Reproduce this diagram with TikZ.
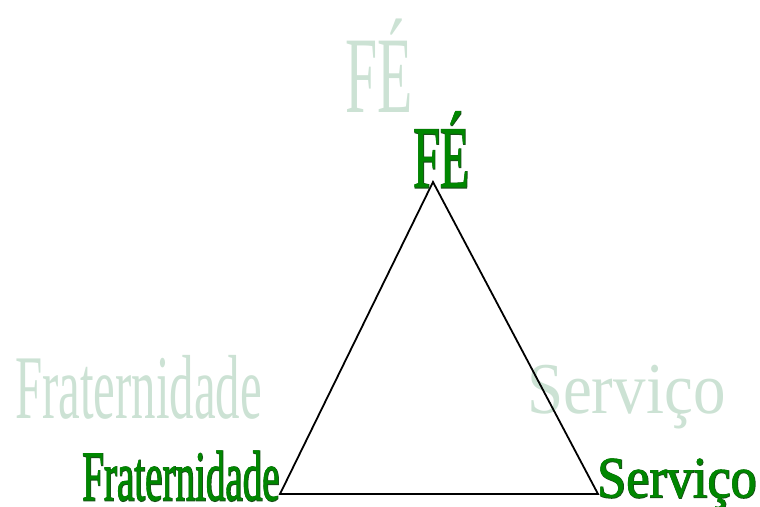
\documentclass[tikz,border=0pt]{standalone}
\usepackage{fontspec}
\setmainfont{Liberation Serif}
\newfontfamily\heavyface[FakeBold=2.5]{Liberation Serif}
\newfontfamily\midface[FakeBold=0.8]{Liberation Serif}
\usepackage{graphicx}
\definecolor{pale}{RGB}{204,226,212}
\definecolor{leaf}{RGB}{0,135,0}
\definecolor{deep}{RGB}{25,80,25}
\newcommand{\txt}[3]{\fontsize{#1}{#1}\selectfont\scalebox{#2}[1]{#3}}
\begin{document}
\begin{tikzpicture}[x=1pt,y=-1pt,
  lbl/.style={anchor=base west,inner sep=0pt,outer sep=0pt},
  shadowtxt/.style={lbl,text=pale},
  backtxt/.style={lbl,text=deep,font=\heavyface},
  fronttxt/.style={lbl,text=leaf,font=\midface},
  edge/.style={draw=black,line width=1.8pt,line join=miter}]
\useasboundingbox (0,0) rectangle (760,506);
% pale background words
\node[shadowtxt] (sfe) at (345,112) {\txt{109}{0.53}{FÉ}};
\node[shadowtxt] (sfrat) at (15,418) {\txt{91}{0.537}{Fraternidade}};
\node[shadowtxt] (sserv) at (527,413) {\txt{73}{0.89}{Serviço}};
% triangle
\coordinate (top) at (433,182);
\coordinate (bl) at (280,494);
\coordinate (br) at (598,494);
\draw[edge] (top) -- (bl) -- (br) -- cycle;
% dark embossed labels
\node[backtxt] (fe0) at (413.5,187.5) {\txt{88}{0.545}{FÉ}};
\node[fronttxt] (fe) at (413,187) {\txt{88}{0.545}{FÉ}};
\node[backtxt] (frat0) at (82.5,500.5) {\txt{71}{0.55}{Fraternidade}};
\node[fronttxt] (frat) at (82,500) {\txt{71}{0.55}{Fraternidade}};
\node[backtxt] (serv0) at (597.5,497.5) {\txt{58}{0.9}{Serviço}};
\node[fronttxt] (serv) at (597,497) {\txt{58}{0.9}{Serviço}};
\end{tikzpicture}
\end{document}
